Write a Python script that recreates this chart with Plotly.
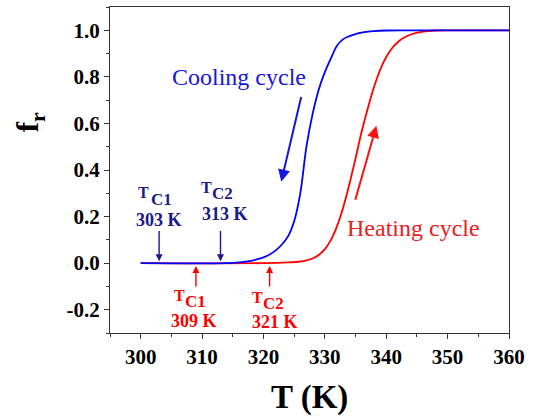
import plotly.graph_objects as go

# ---- data ----
cool_T = [300, 314, 316, 318, 319, 320, 321, 322, 323, 324, 325, 326, 327, 328, 329,
          330, 331, 332, 333, 334, 335, 336, 338, 340, 342, 360]
cool_f = [0, 0, 0.003, 0.01, 0.017, 0.025, 0.037, 0.055, 0.08, 0.115, 0.18, 0.30, 0.50,
          0.64, 0.745, 0.82, 0.88, 0.935, 0.962, 0.975, 0.984, 0.99, 0.996, 0.999, 1.0, 1.0]

heat_T = [300, 320, 324, 326, 327, 328, 329, 330, 331, 332, 333, 334, 335, 336, 337,
          338, 339, 340, 341, 342, 343, 344, 346, 348, 350, 360]
heat_f = [0, 0, 0.003, 0.007, 0.012, 0.02, 0.035, 0.06, 0.10, 0.16, 0.24, 0.34, 0.45,
          0.565, 0.665, 0.755, 0.83, 0.885, 0.925, 0.952, 0.97, 0.982, 0.994, 0.999, 1.0, 1.0]

cool_tc = [303, 313]
heat_tc = [309, 321]

x_ticks = [300, 310, 320, 330, 340, 350, 360]
y_ticks = [-0.2, 0.0, 0.2, 0.4, 0.6, 0.8, 1.0]

SERIF = "Liberation Serif, Times New Roman, serif"
NAVY = "#1a1a8a"
BLUE = "#0000ff"
RED = "#ff0000"

fig = go.Figure()
fig.add_trace(go.Scatter(x=heat_T, y=heat_f, mode="lines", line=dict(color=RED, width=1.8),
                         line_shape="spline", showlegend=False))
fig.add_trace(go.Scatter(x=cool_T, y=cool_f, mode="lines", line=dict(color=BLUE, width=1.8),
                         line_shape="spline", showlegend=False))

ann = []
# cycle labels and arrows
ann.append(dict(x=316.0, y=0.80, text="Cooling cycle", showarrow=False,
                font=dict(family=SERIF, size=24, color="#1515e0")))
ann.append(dict(x=322.9, y=0.35, ax=326.2, ay=0.72, axref="x", ayref="y", text="",
                showarrow=True, arrowhead=2, arrowsize=1.2, arrowwidth=2, arrowcolor="#1515e0"))
ann.append(dict(x=344.5, y=0.152, text="Heating cycle", showarrow=False,
                font=dict(family=SERIF, size=24, color="#e82020")))
ann.append(dict(x=338.4, y=0.59, ax=334.9, ay=0.266, axref="x", ayref="y", text="",
                showarrow=True, arrowhead=2, arrowsize=1.2, arrowwidth=2, arrowcolor="#ff1010"))


def tc_label(tc, sub, color, t_y, t_dx, s_y, s_dx, k_y, k_dx):
    f_T = dict(family=SERIF, size=16, color=color, weight="bold")
    f_S = dict(family=SERIF, size=17, color=color, weight="bold")
    f_K = dict(family=SERIF, size=18, color=color, weight="bold")
    ann.append(dict(x=tc, y=t_y, xshift=t_dx, text="T", showarrow=False, font=f_T))
    ann.append(dict(x=tc, y=s_y, xshift=s_dx, text=sub, showarrow=False, font=f_S))
    ann.append(dict(x=tc, y=k_y, xshift=k_dx, text="%d K" % tc, showarrow=False, font=f_K))


# transition temperature markers (cooling, blue)
for tc in cool_tc:
    ann.append(dict(x=tc, y=0.008, ax=tc, ay=0.145, axref="x", ayref="y", text="",
                    showarrow=True, arrowhead=2, arrowsize=1, arrowwidth=1.4, arrowcolor=NAVY))
tc_label(cool_tc[0], "C1", NAVY, 0.304, -16, 0.273, 2, 0.187, 0)
tc_label(cool_tc[1], "C2", NAVY, 0.327, -14, 0.299, 2, 0.209, 5)

# transition temperature markers (heating, red)
for tc in heat_tc:
    ann.append(dict(x=tc, y=-0.012, ax=tc, ay=-0.107, axref="x", ayref="y", text="",
                    showarrow=True, arrowhead=2, arrowsize=1, arrowwidth=1.4, arrowcolor=RED))
tc_label(heat_tc[0], "C1", RED, -0.141, -16, -0.165, 0, -0.249, -2)
tc_label(heat_tc[1], "C2", RED, -0.146, -12, -0.172, 4, -0.252, 5)

# axis titles
ann.append(dict(xref="paper", yref="paper", x=-0.2, y=0.647, xanchor="center", yanchor="middle",
                text="<b>f<sub>r</sub></b>", textangle=-90, showarrow=False,
                font=dict(family=SERIF, size=31, color="black")))
ann.append(dict(xref="paper", yref="paper", x=0.5, y=-0.199, xanchor="center", yanchor="middle",
                text="<b>T (K)</b>", showarrow=False,
                font=dict(family=SERIF, size=33, color="black")))

axis_common = dict(showgrid=False, zeroline=False, showline=True, linecolor="#333333",
                   linewidth=1.2, mirror=True, ticks="outside", ticklen=5, tickwidth=1,
                   tickcolor="#333333",
                   tickfont=dict(family=SERIF, size=21, color="black", weight="bold"))

fig.update_layout(
    width=533, height=416,
    margin=dict(l=110, r=24, t=7, b=83),
    paper_bgcolor="white", plot_bgcolor="white",
    annotations=ann,
    xaxis=dict(range=[295, 360], tickvals=x_ticks, ticktext=[str(v) for v in x_ticks],
               minor=dict(dtick=5, tick0=295, ticks="outside", ticklen=3, tickcolor="#333333"),
               **axis_common),
    yaxis=dict(range=[-0.3, 1.1], tickvals=y_ticks, ticktext=["%.1f" % v for v in y_ticks],
               minor=dict(dtick=0.1, tick0=-0.3, ticks="outside", ticklen=3, tickcolor="#333333"),
               **axis_common),
)

fig.write_html("out.html", config={"displayModeBar": False},
               post_script="document.body.style.margin='0';")
